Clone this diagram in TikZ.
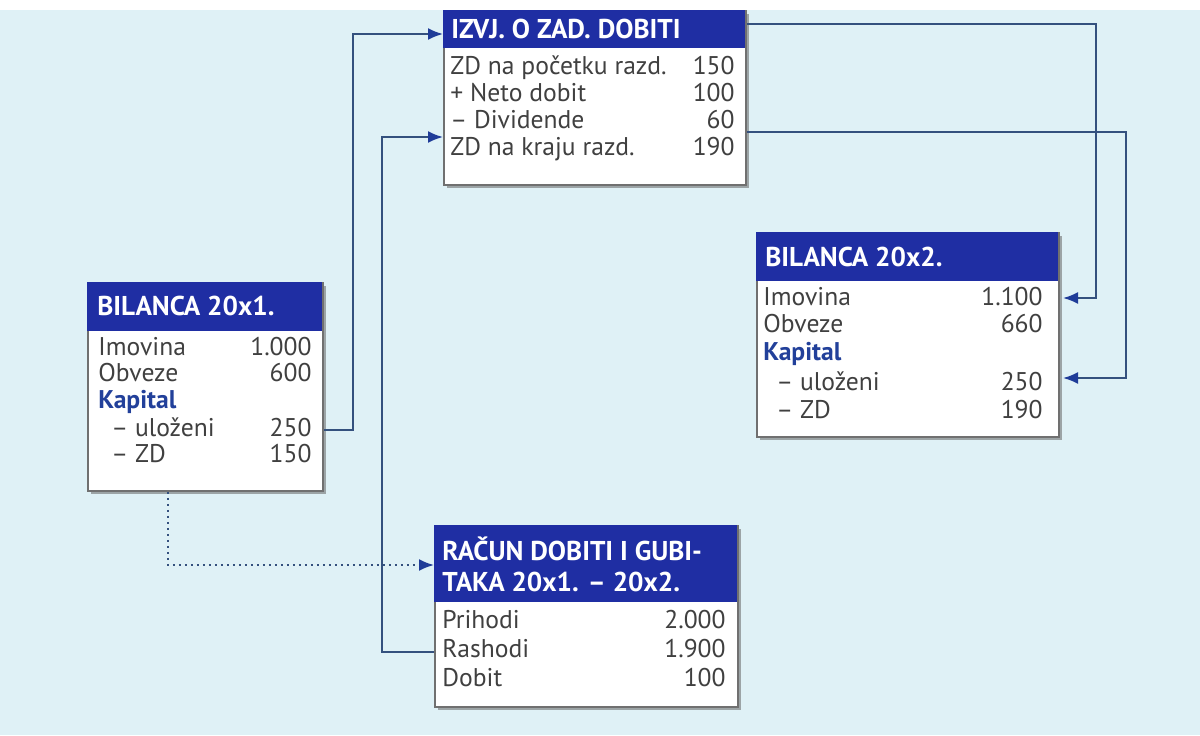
\documentclass[tikz,border=0pt]{standalone}
\usepackage{fontspec}
\setmainfont{PT Sans}
\usetikzlibrary{arrows.meta,shadows}
\definecolor{bgc}{HTML}{DFF1F6}
\definecolor{hdrc}{HTML}{1F2EA3}
\definecolor{lnc}{HTML}{34517E}
\definecolor{arc}{HTML}{1F3C98}
\definecolor{txc}{HTML}{404040}
\definecolor{kapc}{HTML}{22409A}
\definecolor{brd}{HTML}{707070}
\begin{document}
\begin{tikzpicture}[x=0.5pt,y=-0.5pt,
  box/.style={draw=brd, line width=0.9pt, fill=white, inner sep=0pt, anchor=north west,
    drop shadow={shadow xshift=1.6pt, shadow yshift=-1.6pt, fill=black!60, opacity=0.55}},
  hdr/.style={fill=hdrc, inner sep=0pt, anchor=north west},
  htx/.style={text=white, font=\bfseries\fontsize{13.6}{15}\selectfont, anchor=base west, inner sep=0pt},
  lbl/.style={text=txc, font=\fontsize{12.8}{14}\selectfont, anchor=base west, inner sep=0pt},
  val/.style={text=txc, font=\fontsize{12.8}{14}\selectfont, anchor=base east, inner sep=0pt},
  kap/.style={text=kapc, font=\bfseries\fontsize{12.8}{14}\selectfont, anchor=base west, inner sep=0pt},
  conn/.style={draw=lnc, line width=1pt},
  arr/.style={conn, -{Latex[length=7.5pt,width=6pt,color=arc]}},
  dotarr/.style={draw=lnc, line width=1pt, dash pattern=on 1pt off 2pt, -{Latex[length=7.5pt,width=6pt,color=arc]}}
]
\useasboundingbox (0,0) rectangle (1200,735);
\fill[bgc] (0,0) rectangle (1200,735);
\fill[white] (0,0) rectangle (1200,10);

% ---------- Box 1: BILANCA 20x1.
\node[box, minimum width=117.5pt, minimum height=104pt] (b1) at (87,282) {};
\node[hdr, minimum width=117.5pt, minimum height=24.5pt] (h1) at (87,282) {};
\node[htx] (h1t) at (97,315) {BILANCA 20x1.};
\node[lbl] (l1a) at (98,355) {Imovina};      \node[val] (v1a) at (312,355) {1.000};
\node[lbl] (l1b) at (98,381) {Obveze};       \node[val] (v1b) at (312,381) {600};
\node[kap] (l1c) at (98,408) {Kapital};
\node[lbl] (l1d) at (111,436) {– uloženi};   \node[val] (v1d) at (312,436) {250};
\node[lbl] (l1e) at (111,462) {– ZD};        \node[val] (v1e) at (312,462) {150};

% ---------- Box 2: IZVJ. O ZAD. DOBITI
\node[box, minimum width=151pt, minimum height=87pt] (b2) at (443,10) {};
\node[hdr, minimum width=151pt, minimum height=19pt] (h2) at (443,10) {};
\node[htx] (h2t) at (451,38) {IZVJ. O ZAD. DOBITI};
\node[lbl] (l2a) at (450,74) {ZD na početku razd.}; \node[val] (v2a) at (735,74) {150};
\node[lbl] (l2b) at (450,101) {+ Neto dobit};       \node[val] (v2b) at (735,101) {100};
\node[lbl] (l2c) at (450,128) {– Dividende};        \node[val] (v2c) at (735,128) {60};
\node[lbl] (l2d) at (450,155) {ZD na kraju razd.};  \node[val] (v2d) at (735,155) {190};

% ---------- Box 3: BILANCA 20x2.
\node[box, minimum width=151pt, minimum height=102pt] (b3) at (756,232) {};
\node[hdr, minimum width=151pt, minimum height=24.5pt] (h3) at (756,232) {};
\node[htx] (h3t) at (765,266) {BILANCA 20x2.};
\node[lbl] (l3a) at (763,305) {Imovina};      \node[val] (v3a) at (1043,305) {1.100};
\node[lbl] (l3b) at (763,332) {Obveze};       \node[val] (v3b) at (1043,332) {660};
\node[kap] (l3c) at (763,360) {Kapital};
\node[lbl] (l3d) at (776,390) {– uloženi};    \node[val] (v3d) at (1043,390) {250};
\node[lbl] (l3e) at (776,418) {– ZD};         \node[val] (v3e) at (1043,418) {190};

% ---------- Box 4: RAČUN DOBITI I GUBITAKA
\node[box, minimum width=151.5pt, minimum height=90.5pt] (b4) at (434,525) {};
\node[hdr, minimum width=151.5pt, minimum height=38.5pt] (h4) at (434,525) {};
\node[htx] (h4t) at (442,560) {RAČUN DOBITI I GUBI-};
\node[htx] (h4u) at (442,591) {TAKA 20x1. – 20x2.};
\node[lbl] (l4a) at (442,628) {Prihodi};  \node[val] (v4a) at (726,628) {2.000};
\node[lbl] (l4b) at (442,657) {Rashodi};  \node[val] (v4b) at (726,657) {1.900};
\node[lbl] (l4c) at (442,686) {Dobit};    \node[val] (v4c) at (726,686) {100};

% ---------- connectors
\coordinate (c1) at (353,34);
\coordinate (c2) at (382,137);
\coordinate (c3) at (1096,24);
\coordinate (c4) at (1096,298);
\coordinate (c5) at (1126,132);
\coordinate (c6) at (1126,378);
\coordinate (d1) at (168,565);
\coordinate (e1) at (325,430);
\coordinate (e2) at (434,652);

\draw[arr] (b1.east |- e1) -| (c1) -- (b2.west |- c1);
\draw[arr] (b4.west |- e2) -| (c2) -- (b2.west |- c2);
\draw[arr] (b2.east |- c3) -- (c3) -- (c4) -- ([xshift=1.6pt]b3.east |- c4);
\draw[arr] (b2.east |- c5) -- (c5) -- (c6) -- ([xshift=1.6pt]b3.east |- c6);
\draw[dotarr] (b1.south -| d1) -- (d1) -- (b4.west |- d1);
\end{tikzpicture}
\end{document}
